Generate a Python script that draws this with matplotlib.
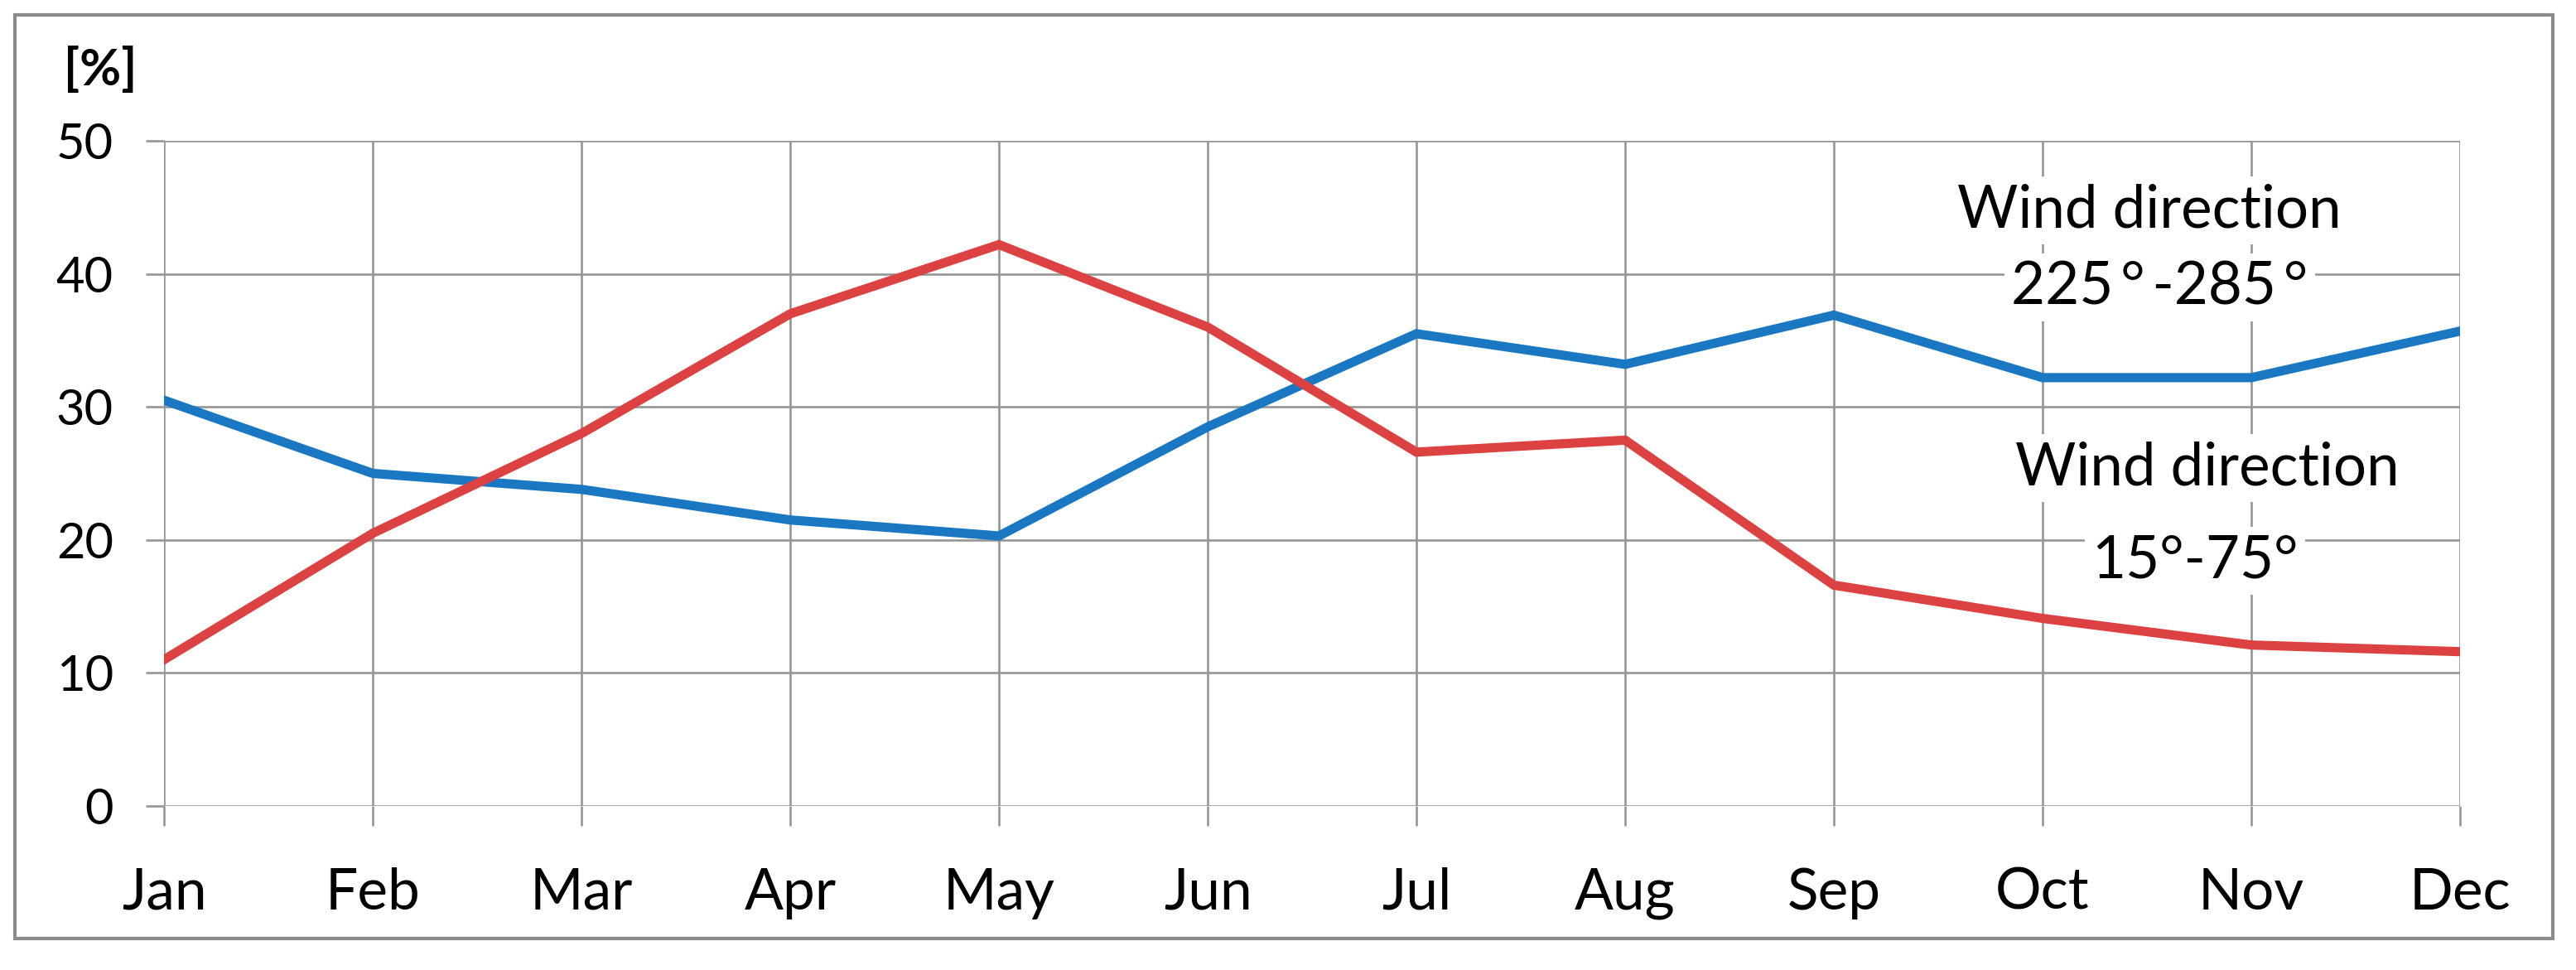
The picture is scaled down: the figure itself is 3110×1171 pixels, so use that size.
import matplotlib.pyplot as plt
from matplotlib.patches import Rectangle

months = ['Jan', 'Feb', 'Mar', 'Apr', 'May', 'Jun', 'Jul', 'Aug', 'Sep', 'Oct', 'Nov', 'Dec']
west = [30.5, 25.0, 23.8, 21.5, 20.3, 28.5, 35.5, 33.2, 36.9, 32.2, 32.2, 35.7]
east = [11.0, 20.5, 28.0, 37.0, 42.2, 36.0, 26.6, 27.5, 16.6, 14.1, 12.1, 11.6]
yticks = [0, 10, 20, 30, 40, 50]

plt.rcParams['font.family'] = ['Lato', 'DejaVu Sans']
grid_c = '#969696'

fig = plt.figure(figsize=(31.1, 11.71), dpi=100)
ax = fig.add_axes([0.0637, 0.1691, 0.8913, 0.6857])

x = list(range(len(months)))
ax.plot(x, west, color='#1a78c2', lw=8, solid_joinstyle='miter', zorder=3)
ax.plot(x, east, color='#dc4242', lw=8, solid_joinstyle='miter', zorder=4)

ax.set_xlim(0, 11)
ax.set_ylim(0, 50)
ax.set_xticks(x)
ax.set_xticklabels(months, fontsize=50)
ax.set_yticks(yticks)
ax.set_yticklabels([str(v) for v in yticks], fontsize=43)
ax.grid(True, color=grid_c, lw=1.9, zorder=1)
ax.tick_params(axis='y', length=16, width=1.9, color=grid_c, pad=28)
ax.tick_params(axis='x', length=17, width=1.9, color=grid_c, pad=36)
for s in ax.spines.values():
    s.set_visible(False)

box = dict(facecolor='white', edgecolor='none', pad=6)
ax.text(9.51, 44.8, 'Wind direction', fontsize=51, ha='center', va='center', bbox=box, zorder=5)
ax.text(9.56, 39.0, '225\u2009°\u2009-285\u2009°', fontsize=51, ha='center', va='center', bbox=box, zorder=5)
ax.text(9.79, 25.4, 'Wind direction', fontsize=51, ha='center', va='center', bbox=box, zorder=5)
ax.text(9.73, 18.4, '15°-75°', fontsize=51, ha='center', va='center', bbox=box, zorder=5)

fig.text(0.039, 0.928, '[%]', fontsize=44, fontweight='bold', ha='center', va='center')

fig.patches.append(Rectangle((0.0058, 0.0325), 0.9852, 0.9521, transform=fig.transFigure,
                             fill=False, edgecolor='#8a8a8a', lw=3))

fig.savefig('out.png', dpi=100)
